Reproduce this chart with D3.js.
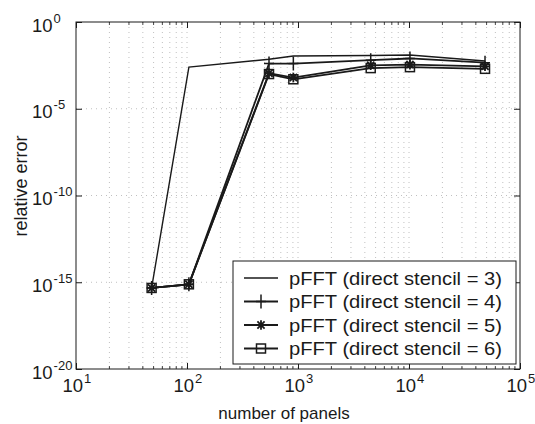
<!DOCTYPE html>
<html>
<head>
<meta charset="utf-8">
<script src="https://cdn.jsdelivr.net/npm/d3@7"></script>
<style>
  html, body { margin: 0; padding: 0; background: #fff; }
  svg { display: block; }
  svg text { font-family: "Liberation Sans", Arial, sans-serif; }
</style>
</head>
<body>
<svg id="chart" width="535" height="424"></svg>
<script>
// ---- data ----
const panels = [48, 104, 548, 908, 4520, 10200, 48400];
const stencil3 = [4.7e-16, 2.5e-3, 7.1e-3, 1.1e-2, 1.17e-2, 1.26e-2, 5.6e-3];
const stencil4 = [4.7e-16, 7.6e-16, 4.0e-3, 4.0e-3, 6.3e-3, 7.9e-3, 4.5e-3];
const stencil5 = [4.7e-16, 7.6e-16, 1.12e-3, 6.3e-4, 3.2e-3, 3.5e-3, 2.8e-3];
const stencil6 = [4.7e-16, 7.6e-16, 1.0e-3, 5.0e-4, 2.2e-3, 2.5e-3, 2.0e-3];
const seriesNames = ["pFFT (direct stencil = 3)", "pFFT (direct stencil = 4)",
                     "pFFT (direct stencil = 5)", "pFFT (direct stencil = 6)"];
const seriesMarkers = ["none", "plus", "star", "square"];
const xTickExps = [1, 2, 3, 4, 5];
const yTickExps = [0, -5, -10, -15, -20];
const xLabel = "number of panels";
const yLabel = "relative error";

const seriesValues = [stencil3, stencil4, stencil5, stencil6];

// ---- layout ----
const svg = d3.select("#chart");
const L = 76, R = 520, T = 22, B = 369;
const x = d3.scaleLog().domain([10, 1e5]).range([L, R]);
const y = d3.scaleLog().domain([1e-20, 1]).range([B, T]);
const ink = "#1a1a1a";
const FONT = "Liberation Sans, Arial, sans-serif";

// grid
const minorX = [];
for (let e = 1; e < 5; e++) for (let m = 1; m <= 9; m++) minorX.push(m * Math.pow(10, e));
const grid = svg.append("g");
grid.selectAll("line.gx").data(minorX.filter(v => v > 10 && v < 1e5)).join("line")
  .attr("x1", d => x(d)).attr("x2", d => x(d)).attr("y1", T).attr("y2", B)
  .attr("stroke", "#b0b0b0").attr("stroke-width", 0.8).attr("stroke-dasharray", "1,4");
grid.selectAll("line.gy").data(yTickExps.filter(e => e > -20 && e < 0)).join("line")
  .attr("x1", L).attr("x2", R).attr("y1", d => y(Math.pow(10, d))).attr("y2", d => y(Math.pow(10, d)))
  .attr("stroke", "#b0b0b0").attr("stroke-width", 0.8).attr("stroke-dasharray", "1,4");

// axes (ticks from d3 axes; labels "10" + superscript exponent)
function supLabels(sel, exps, anchor, dx, dy) {
  sel.attr("font-family", FONT);
  sel.selectAll(".tick text").each(function(d, i) {
    const t = d3.select(this);
    t.text(null).attr("text-anchor", anchor).attr("x", null).attr("dy", null)
      .attr("font-size", "18.5px").attr("fill", ink);
    t.append("tspan").attr("x", dx).attr("y", dy).text("10");
    t.append("tspan").attr("dy", "-9").attr("dx", "1").attr("font-size", "13px").text(exps[i]);
  });
}
const xAxis = d3.axisBottom(x).tickValues(xTickExps.map(e => Math.pow(10, e)))
  .tickSize(-6).tickSizeOuter(0).tickFormat(() => "");
const gx = svg.append("g").attr("transform", `translate(0,${B})`).call(xAxis);
supLabels(gx, xTickExps, "start", -14, 23);

const xAxisTop = d3.axisTop(x).tickValues(xTickExps.map(e => Math.pow(10, e)))
  .tickSize(-6).tickSizeOuter(0).tickFormat(() => "");
svg.append("g").attr("transform", `translate(0,${T})`).call(xAxisTop).selectAll("text").remove();

const yAxis = d3.axisLeft(y).tickValues(yTickExps.map(e => Math.pow(10, e)))
  .tickSize(-6).tickSizeOuter(0).tickFormat(() => "");
const gy = svg.append("g").attr("transform", `translate(${L},0)`).call(yAxis);
supLabels(gy, yTickExps, "start", -44, 9);

const yAxisRight = d3.axisRight(y).tickValues(yTickExps.map(e => Math.pow(10, e)))
  .tickSize(-6).tickSizeOuter(0).tickFormat(() => "");
svg.append("g").attr("transform", `translate(${R},0)`).call(yAxisRight).selectAll("text").remove();

// minor x ticks
const minorTicks = minorX.filter(v => v > 10 && v < 1e5 && !xTickExps.some(e => Math.abs(v - Math.pow(10, e)) < 1e-6));
svg.append("g").selectAll("line").data(minorTicks).join("line")
  .attr("x1", d => x(d)).attr("x2", d => x(d)).attr("y1", B).attr("y2", B - 3)
  .attr("stroke", ink).attr("stroke-width", 0.8);
svg.append("g").selectAll("line").data(minorTicks).join("line")
  .attr("x1", d => x(d)).attr("x2", d => x(d)).attr("y1", T).attr("y2", T + 3)
  .attr("stroke", ink).attr("stroke-width", 0.8);

svg.selectAll(".domain").remove();
svg.selectAll(".tick line").attr("stroke", ink);
svg.append("rect").attr("x", L).attr("y", T).attr("width", R - L).attr("height", B - T)
  .attr("fill", "none").attr("stroke", ink).attr("stroke-width", 1);

// axis labels
svg.append("text").attr("x", 284).attr("y", 419).attr("text-anchor", "middle")
  .attr("font-size", "17px").attr("fill", ink).text(xLabel);
svg.append("text").attr("transform", "translate(27,186) rotate(-90)").attr("text-anchor", "middle")
  .attr("font-size", "18px").attr("fill", ink).text(yLabel);

// markers
function drawMarker(g, type, cx, cy) {
  if (type === "plus") {
    g.append("path").attr("d", `M${cx-5},${cy}H${cx+5}M${cx},${cy-7}V${cy+7}`)
      .attr("stroke", ink).attr("stroke-width", 1.5).attr("fill", "none");
  } else if (type === "star") {
    const s = 4.8;
    g.append("path").attr("d",
      `M${cx-s},${cy}H${cx+s}M${cx},${cy-s}V${cy+s}M${cx-s*0.75},${cy-s*0.75}L${cx+s*0.75},${cy+s*0.75}M${cx-s*0.75},${cy+s*0.75}L${cx+s*0.75},${cy-s*0.75}`)
      .attr("stroke", ink).attr("stroke-width", 1.8).attr("fill", "none");
  } else if (type === "square") {
    g.append("rect").attr("x", cx - 4.5).attr("y", cy - 4.5).attr("width", 9).attr("height", 9)
      .attr("fill", "none").attr("stroke", ink).attr("stroke-width", 1.5);
  }
}

// series
const line = d3.line().x(d => x(d[0])).y(d => y(d[1]));
const plot = svg.append("g");
seriesValues.forEach((vals, si) => {
  const pts = panels.map((p, i) => [p, vals[i]]);
  plot.append("path").datum(pts).attr("d", line)
    .attr("fill", "none").attr("stroke", ink).attr("stroke-width", si === 0 ? 1.4 : 1.8);
  const mg = plot.append("g");
  pts.forEach(p => drawMarker(mg, seriesMarkers[si], x(p[0]), y(p[1])));
});

// legend
const lg = svg.append("g");
lg.append("rect").attr("x", 233).attr("y", 261).attr("width", 283).attr("height", 103)
  .attr("fill", "#fff").attr("stroke", ink).attr("stroke-width", 1);
seriesNames.forEach((name, i) => {
  const cy = 278 + i * 23.5;
  lg.append("line").attr("x1", 244).attr("x2", 278).attr("y1", cy).attr("y2", cy)
    .attr("stroke", ink).attr("stroke-width", i === 0 ? 1.4 : 1.8);
  drawMarker(lg, seriesMarkers[i], 261, cy);
  lg.append("text").attr("x", 289).attr("y", cy + 6.5).attr("font-size", "18.5px")
    .attr("textLength", 213).attr("lengthAdjust", "spacingAndGlyphs")
    .attr("fill", ink).text(name);
});
</script>
</body>
</html>
